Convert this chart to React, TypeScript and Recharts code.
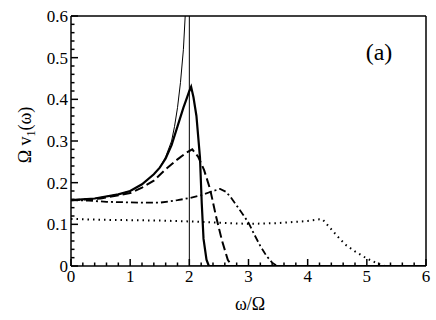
import { LineChart, Line, XAxis, YAxis } from "recharts"

// thin curve: free case, diverges at ω = 2 then drops straight to zero
const thinCurve = [
	{ w: 0, v: 0.158 }, { w: 0.4, v: 0.162 }, { w: 0.8, v: 0.172 }, { w: 1.0, v: 0.18 },
	{ w: 1.2, v: 0.196 }, { w: 1.4, v: 0.22 }, { w: 1.5, v: 0.236 }, { w: 1.6, v: 0.262 },
	{ w: 1.7, v: 0.3 }, { w: 1.75, v: 0.335 }, { w: 1.8, v: 0.38 }, { w: 1.85, v: 0.44 },
	{ w: 1.9, v: 0.52 }, { w: 1.93, v: 0.6 }, { w: 1.97, v: 0.9 }, { w: 1.99, v: 1.5 },
	{ w: 2.0, v: 1.5 }, { w: 2.0, v: 0 }, { w: 6, v: 0 },
]

const solidCurve = [
	{ w: 0, v: 0.158 }, { w: 0.4, v: 0.162 }, { w: 0.8, v: 0.172 }, { w: 1.0, v: 0.18 },
	{ w: 1.2, v: 0.196 }, { w: 1.4, v: 0.22 }, { w: 1.5, v: 0.236 }, { w: 1.6, v: 0.258 },
	{ w: 1.7, v: 0.29 }, { w: 1.8, v: 0.335 }, { w: 1.9, v: 0.38 }, { w: 1.95, v: 0.4 },
	{ w: 2.0, v: 0.42 }, { w: 2.03, v: 0.43 }, { w: 2.07, v: 0.405 }, { w: 2.12, v: 0.36 },
	{ w: 2.18, v: 0.26 }, { w: 2.21, v: 0.15 }, { w: 2.24, v: 0.065 }, { w: 2.29, v: 0.015 },
	{ w: 2.33, v: 0 }, { w: 6, v: 0 },
]

const dashedCurve = [
	{ w: 0, v: 0.158 }, { w: 0.5, v: 0.162 }, { w: 1.0, v: 0.175 }, { w: 1.2, v: 0.188 },
	{ w: 1.4, v: 0.205 }, { w: 1.6, v: 0.232 }, { w: 1.8, v: 0.256 }, { w: 1.95, v: 0.272 },
	{ w: 2.05, v: 0.28 }, { w: 2.15, v: 0.262 }, { w: 2.25, v: 0.23 }, { w: 2.35, v: 0.185 },
	{ w: 2.45, v: 0.12 }, { w: 2.55, v: 0.062 }, { w: 2.65, v: 0.015 }, { w: 2.72, v: 0 },
	{ w: 6, v: 0 },
]

const dashDotCurve = [
	{ w: 0, v: 0.158 }, { w: 0.3, v: 0.157 }, { w: 0.6, v: 0.154 }, { w: 0.9, v: 0.153 },
	{ w: 1.2, v: 0.152 }, { w: 1.5, v: 0.152 }, { w: 1.8, v: 0.158 }, { w: 2.0, v: 0.163 },
	{ w: 2.2, v: 0.17 }, { w: 2.4, v: 0.18 }, { w: 2.52, v: 0.185 }, { w: 2.62, v: 0.178 },
	{ w: 2.7, v: 0.165 }, { w: 2.8, v: 0.145 }, { w: 2.9, v: 0.125 }, { w: 3.0, v: 0.104 },
	{ w: 3.1, v: 0.075 }, { w: 3.2, v: 0.048 }, { w: 3.3, v: 0.025 }, { w: 3.4, v: 0.008 },
	{ w: 3.48, v: 0 }, { w: 6, v: 0 },
]

const dottedCurve = [
	{ w: 0, v: 0.113 }, { w: 0.5, v: 0.111 }, { w: 1.0, v: 0.11 }, { w: 1.5, v: 0.109 },
	{ w: 2.0, v: 0.107 }, { w: 2.5, v: 0.104 }, { w: 3.0, v: 0.101 }, { w: 3.5, v: 0.103 },
	{ w: 3.8, v: 0.106 }, { w: 4.0, v: 0.108 }, { w: 4.2, v: 0.112 }, { w: 4.25, v: 0.112 },
	{ w: 4.35, v: 0.096 }, { w: 4.45, v: 0.08 }, { w: 4.55, v: 0.064 }, { w: 4.65, v: 0.05 },
	{ w: 4.8, v: 0.035 }, { w: 5.0, v: 0.018 }, { w: 5.15, v: 0.008 }, { w: 5.3, v: 0 },
	{ w: 6, v: 0 },
]

const xTicks = [
	0, 0.2, 0.4, 0.6, 0.8, 1, 1.2, 1.4, 1.6, 1.8, 2, 2.2, 2.4, 2.6, 2.8, 3,
	3.2, 3.4, 3.6, 3.8, 4, 4.2, 4.4, 4.6, 4.8, 5, 5.2, 5.4, 5.6, 5.8, 6,
]
const yTicks = [
	0, 0.02, 0.04, 0.06, 0.08, 0.1, 0.12, 0.14, 0.16, 0.18, 0.2, 0.22, 0.24, 0.26, 0.28, 0.3,
	0.32, 0.34, 0.36, 0.38, 0.4, 0.42, 0.44, 0.46, 0.48, 0.5, 0.52, 0.54, 0.56, 0.58, 0.6,
]

const font = "Liberation Serif, DejaVu Serif, serif"

const isMajor = (v: number, step: number) => Math.abs(v / step - Math.round(v / step)) < 1e-6

const TickBottom = ({ x, y, payload }: any) => {
	const major = isMajor(payload.value, 1)
	return (
		<g>
			<line x1={x} x2={x} y1={y} y2={y - (major ? 7 : 3.5)} stroke="#000" strokeWidth={1.5} />
			{major && (
				<text x={x} y={y + 16} textAnchor="middle" style={{ fontFamily: font }} fontSize={17} fill="#000">
					{payload.value}
				</text>
			)}
		</g>
	)
}

const TickTop = ({ x, y, payload }: any) => {
	const major = isMajor(payload.value, 1)
	return <line x1={x} x2={x} y1={y} y2={y + (major ? 7 : 3.5)} stroke="#000" strokeWidth={1.5} />
}

const TickLeft = ({ x, y, payload }: any) => {
	const major = isMajor(payload.value, 0.1)
	return (
		<g>
			<line x1={x} x2={x + (major ? 7 : 3.5)} y1={y} y2={y} stroke="#000" strokeWidth={1.5} />
			{major && (
				<text x={x - 3} y={y + 6} textAnchor="end" style={{ fontFamily: font }} fontSize={17} fill="#000">
					{payload.value === 0 ? "0" : payload.value.toFixed(1)}
				</text>
			)}
		</g>
	)
}

const TickRight = ({ x, y, payload }: any) => {
	const major = isMajor(payload.value, 0.1)
	return <line x1={x} x2={x - (major ? 7 : 3.5)} y1={y} y2={y} stroke="#000" strokeWidth={1.5} />
}

const axisLine = { stroke: "#000", strokeWidth: 1.5 }

export default function App() {
	return (
		<div style={{ position: "absolute", left: 0, top: 0, width: 436, height: 320 }}>
			<LineChart width={436} height={320} margin={{ top: 6, right: 0, bottom: 24, left: 31 }}>
				<XAxis
					dataKey="w"
					type="number"
					domain={[0, 6]}
					ticks={xTicks}
					interval={0}
					height={30}
					tickSize={0}
					tickMargin={0}
					tickLine={false}
					axisLine={axisLine}
					tick={<TickBottom />}
					allowDataOverflow
				/>
				<XAxis
					xAxisId="top"
					orientation="top"
					dataKey="w"
					type="number"
					domain={[0, 6]}
					ticks={xTicks}
					interval={0}
					height={10}
					tickSize={0}
					tickMargin={0}
					tickLine={false}
					axisLine={axisLine}
					tick={<TickTop />}
				/>
				<YAxis
					dataKey="v"
					type="number"
					domain={[0, 0.6]}
					ticks={yTicks}
					interval={0}
					width={40}
					tickSize={0}
					tickMargin={0}
					tickLine={false}
					axisLine={axisLine}
					tick={<TickLeft />}
					allowDataOverflow
				/>
				<YAxis
					yAxisId="right"
					orientation="right"
					type="number"
					domain={[0, 0.6]}
					ticks={yTicks}
					interval={0}
					width={10}
					tickSize={0}
					tickMargin={0}
					tickLine={false}
					axisLine={axisLine}
					tick={<TickRight />}
				/>
				<Line data={thinCurve} dataKey="v" stroke="#000" strokeWidth={1} dot={false} isAnimationActive={false} />
				<Line data={solidCurve} dataKey="v" stroke="#000" strokeWidth={2.2} dot={false} isAnimationActive={false} />
				<Line
					data={dashedCurve}
					dataKey="v"
					stroke="#000"
					strokeWidth={2}
					strokeDasharray="9 4"
					dot={false}
					isAnimationActive={false}
				/>
				<Line
					data={dashDotCurve}
					dataKey="v"
					stroke="#000"
					strokeWidth={1.8}
					strokeDasharray="7 3 2 3"
					dot={false}
					isAnimationActive={false}
				/>
				<Line
					data={dottedCurve}
					dataKey="v"
					stroke="#000"
					strokeWidth={2}
					strokeDasharray="1.5 4"
					dot={false}
					isAnimationActive={false}
				/>
			</LineChart>
			<svg width={436} height={320} style={{ position: "absolute", left: 0, top: 0, pointerEvents: "none" }}>
				<text x={250} y={310} textAnchor="middle" style={{ fontFamily: font }} fontSize={18} fill="#000">
					ω/Ω
				</text>
				<text
					transform="translate(31,135) rotate(-90)"
					textAnchor="middle"
					style={{ fontFamily: font }}
					fontSize={18}
					fill="#000"
				>
					Ω v<tspan fontSize={12} dy={4}>1</tspan>
					<tspan dy={-4}>(ω)</tspan>
				</text>
				<text x={379} y={60} textAnchor="middle" style={{ fontFamily: font }} fontSize={24} fill="#000">
					(a)
				</text>
			</svg>
		</div>
	)
}
